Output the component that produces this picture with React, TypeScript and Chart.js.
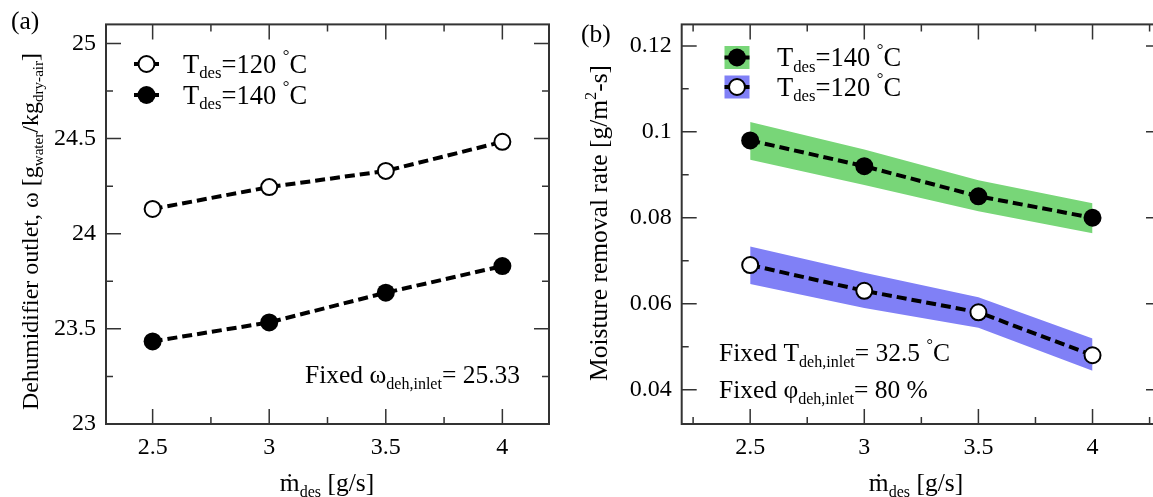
import React, { useEffect, useRef } from 'react';
import { Chart, registerables } from 'chart.js';
Chart.register(...registerables);

// ---------- data ----------
const xValues = [2.5, 3, 3.5, 4];
const omega120 = [24.13, 24.245, 24.33, 24.483];
const omega140 = [23.434, 23.534, 23.69, 23.83];
const rate140 = [0.098, 0.092, 0.085, 0.08];
const rate140Upper = [0.1023, 0.0959, 0.0887, 0.0834];
const rate140Lower = [0.0935, 0.0876, 0.0815, 0.0764];
const rate120 = [0.069, 0.063, 0.058, 0.048];
const rate120Upper = [0.0733, 0.0672, 0.0615, 0.0519];
const rate120Lower = [0.0646, 0.059, 0.0544, 0.0444];

const xTicks = [2.5, 3, 3.5, 4];
const leftXMinor = [2.75, 3.25, 3.75];
const rightXMinor = [2.25, 2.75, 3.25, 3.75, 4.25];
const leftYTicks = [23, 23.5, 24, 24.5, 25];
const leftYMinor = [23.25, 23.75, 24.25, 24.75];
const rightYTicks = [0.04, 0.06, 0.08, 0.1, 0.12];
const rightYMinor = [0.05, 0.07, 0.09, 0.11];

// ---------- helpers ----------
const FAM = '"Liberation Serif", "Times New Roman", "DejaVu Serif", serif';
Chart.defaults.font.family = FAM;
const TXT = 25.5;
const LEG = 26.5;
const TITLE = 25.5;
const TICK = 24;
const BLACK = '#000';
const FRAME = '#333';
const GREEN = 'rgb(120,214,120)';
const BLUE = 'rgb(128,128,246)';

type Seg = { t: string; sub?: boolean; sup?: boolean };

function drawRich(ctx: CanvasRenderingContext2D, segs: Seg[], x: number, y: number, size: number, align: 'left' | 'center' = 'left') {
  const small = size * 0.63;
  const widths: number[] = [];
  let total = 0;
  for (const s of segs) {
    ctx.font = `${s.sub || s.sup ? small : size}px ${FAM}`;
    const w = ctx.measureText(s.t).width;
    widths.push(w);
    total += w;
  }
  let cx = align === 'center' ? x - total / 2 : x;
  ctx.textAlign = 'left';
  ctx.textBaseline = 'alphabetic';
  segs.forEach((s, i) => {
    ctx.font = `${s.sub || s.sup ? small : size}px ${FAM}`;
    const dy = s.sub ? size * 0.22 : s.sup ? -size * 0.42 : 0;
    ctx.fillText(s.t, cx, y + dy);
    cx += widths[i];
  });
}

function drawRotated(ctx: CanvasRenderingContext2D, segs: Seg[], x: number, y: number, size: number) {
  ctx.save();
  ctx.translate(x, y);
  ctx.rotate(-Math.PI / 2);
  drawRich(ctx, segs, 0, 0, size, 'left');
  ctx.restore();
}

function marker(ctx: CanvasRenderingContext2D, x: number, y: number, filled: boolean) {
  ctx.beginPath();
  ctx.arc(x, y, filled ? 9 : 8, 0, Math.PI * 2);
  ctx.fillStyle = filled ? BLACK : '#fff';
  ctx.fill();
  if (!filled) {
    ctx.lineWidth = 2;
    ctx.strokeStyle = BLACK;
    ctx.stroke();
  }
}

function framePlugin(xMajor: number[], xMinor: number[], yMajor: number[], yMinor: number[]) {
  return {
    id: 'frameTicks',
    afterDraw(chart: any) {
      const { ctx, chartArea: a, scales } = chart;
      const xs = scales.x;
      const ys = scales.y;
      ctx.save();
      ctx.strokeStyle = FRAME;
      ctx.lineWidth = 1.5;
      const vt = (v: number, len: number) => {
        const p = xs.getPixelForValue(v);
        ctx.beginPath();
        ctx.moveTo(p, a.bottom);
        ctx.lineTo(p, a.bottom - len);
        ctx.moveTo(p, a.top);
        ctx.lineTo(p, a.top + len);
        ctx.stroke();
      };
      const ht = (v: number, len: number) => {
        const p = ys.getPixelForValue(v);
        ctx.beginPath();
        ctx.moveTo(a.left, p);
        ctx.lineTo(a.left + len, p);
        ctx.moveTo(a.right, p);
        ctx.lineTo(a.right - len, p);
        ctx.stroke();
      };
      xMajor.forEach((v) => vt(v, 15));
      xMinor.forEach((v) => vt(v, 7));
      yMajor.forEach((v) => ht(v, 15));
      yMinor.forEach((v) => ht(v, 7));
      ctx.lineWidth = 2;
      ctx.strokeRect(a.left, a.top, a.right - a.left, a.bottom - a.top);
      ctx.restore();
    },
  };
}

const deg = (v: string): Seg[] => [{ t: 'T' }, { t: 'des', sub: true }, { t: `=${v} ` }, { t: '°', sup: true }, { t: 'C' }];
const xTitle: Seg[] = [{ t: 'ṁ' }, { t: 'des', sub: true }, { t: ' [g/s]' }];

function leftText() {
  return {
    id: 'leftText',
    afterDraw(chart: any) {
      const ctx: CanvasRenderingContext2D = chart.ctx;
      ctx.save();
      ctx.fillStyle = BLACK;
      drawRich(ctx, [{ t: '(a)' }], 11, 29, TITLE);
      // legend
      const rows = [
        { y: 64, filled: false, segs: deg('120') },
        { y: 95, filled: true, segs: deg('140') },
      ];
      for (const r of rows) {
        ctx.strokeStyle = BLACK;
        ctx.lineWidth = 4;
        ctx.beginPath();
        ctx.moveTo(134, r.y);
        ctx.lineTo(159, r.y);
        ctx.stroke();
        marker(ctx, 146.5, r.y, r.filled);
        ctx.fillStyle = BLACK;
        drawRich(ctx, r.segs, 183, r.y + 8.5, LEG);
      }
      drawRich(ctx, [{ t: 'Fixed ω' }, { t: 'deh,inlet', sub: true }, { t: '= 25.33' }], 305, 383, TXT);
      drawRotated(
        ctx,
        [{ t: 'Dehumidifier outlet, ω [g' }, { t: 'water', sub: true }, { t: '/kg' }, { t: 'dry-air', sub: true }, { t: ']' }],
        38,
        410,
        24
      );
      drawRich(ctx, xTitle, 327, 491, TITLE, 'center');
      ctx.restore();
    },
  };
}

const OX = 565;
function rightText() {
  return {
    id: 'rightText',
    afterDraw(chart: any) {
      const ctx: CanvasRenderingContext2D = chart.ctx;
      ctx.save();
      ctx.translate(-OX, 0);
      ctx.fillStyle = BLACK;
      drawRich(ctx, [{ t: '(b)' }], 581, 42, TITLE);
      const rows = [
        { y: 57.5, filled: true, color: GREEN, segs: deg('140') },
        { y: 87, filled: false, color: BLUE, segs: deg('120') },
      ];
      for (const r of rows) {
        ctx.fillStyle = r.color;
        ctx.fillRect(724.5, r.y - 11.5, 25, 23);
        ctx.strokeStyle = BLACK;
        ctx.lineWidth = 4;
        ctx.beginPath();
        ctx.moveTo(724.5, r.y);
        ctx.lineTo(749.5, r.y);
        ctx.stroke();
        marker(ctx, 737, r.y, r.filled);
        ctx.fillStyle = BLACK;
        drawRich(ctx, r.segs, 777, r.y + 8.5, LEG);
      }
      drawRich(ctx, [{ t: 'Fixed T' }, { t: 'deh,inlet', sub: true }, { t: '= 32.5 ' }, { t: '°', sup: true }, { t: 'C' }], 719, 361, TXT);
      drawRich(ctx, [{ t: 'Fixed φ' }, { t: 'deh,inlet', sub: true }, { t: '= 80 %' }], 719, 398, TXT);
      drawRotated(
        ctx,
        [{ t: 'Moisture removal rate [g/m' }, { t: '2', sup: true }, { t: '-s]' }],
        607,
        381,
        TITLE
      );
      drawRich(ctx, xTitle, 916, 491, TITLE, 'center');
      ctx.restore();
    },
  };
}

const tickFont = { family: FAM, size: TICK };
const fmt = (v: any) => String(+Number(v).toFixed(3));

function axes(xmin: number, xmax: number, ymin: number, ymax: number, yTicks: number[], yWidth: number) {
  return {
    x: {
      type: 'linear',
      min: xmin,
      max: xmax,
      grid: { display: false, drawTicks: false, tickLength: 0 },
      border: { display: false },
      ticks: { font: tickFont, color: BLACK, padding: 9, maxRotation: 0, callback: fmt },
      afterBuildTicks: (s: any) => {
        s.ticks = xTicks.map((v) => ({ value: v }));
      },
      afterFit: (s: any) => {
        s.height = 73;
      },
    },
    y: {
      type: 'linear',
      min: ymin,
      max: ymax,
      grid: { display: false, drawTicks: false, tickLength: 0 },
      border: { display: false },
      ticks: { font: tickFont, color: BLACK, padding: 10, callback: fmt },
      afterBuildTicks: (s: any) => {
        s.ticks = yTicks.map((v) => ({ value: v }));
      },
      afterFit: (s: any) => {
        s.width = yWidth;
      },
    },
  };
}

const pts = (ys: number[]) => xValues.map((x, i) => ({ x, y: ys[i] }));

const lineStyle = (filled: boolean) => ({
  borderColor: BLACK,
  borderWidth: 4,
  borderDash: [10, 5],
  pointRadius: filled ? 9 : 8,
  pointHoverRadius: filled ? 9 : 8,
  pointBorderWidth: filled ? 0 : 2,
  pointBackgroundColor: filled ? BLACK : '#fff',
  pointBorderColor: BLACK,
  fill: false,
  tension: 0,
  order: 0,
});

const bandStyle = (color: string, fillPrev: boolean) => ({
  borderWidth: 0,
  borderColor: 'rgba(0,0,0,0)',
  backgroundColor: color,
  pointRadius: 0,
  pointHoverRadius: 0,
  fill: fillPrev ? '-1' : false,
  tension: 0,
  order: 3,
});

const baseOptions = {
  responsive: false,
  animation: false,
  events: [],
  plugins: { legend: { display: false }, tooltip: { enabled: false } },
};

function leftConfig(): any {
  return {
    type: 'line',
    data: {
      datasets: [
        { label: 'T_des=120 °C', data: pts(omega120), ...lineStyle(false) },
        { label: 'T_des=140 °C', data: pts(omega140), ...lineStyle(true) },
      ],
    },
    options: {
      ...baseOptions,
      layout: { padding: { top: 19, right: 16, left: 0, bottom: 0 } },
      scales: axes(2.3, 4.2, 23, 25.1, leftYTicks, 106),
    },
    plugins: [framePlugin(xTicks, leftXMinor, leftYTicks, leftYMinor), leftText()],
  };
}

function rightConfig(): any {
  return {
    type: 'line',
    data: {
      datasets: [
        { label: '140 upper', data: pts(rate140Upper), ...bandStyle(GREEN, false) },
        { label: '140 lower', data: pts(rate140Lower), ...bandStyle(GREEN, true) },
        { label: '120 upper', data: pts(rate120Upper), ...bandStyle(BLUE, false) },
        { label: '120 lower', data: pts(rate120Lower), ...bandStyle(BLUE, true) },
        { label: 'T_des=140 °C', data: pts(rate140), ...lineStyle(true) },
        { label: 'T_des=120 °C', data: pts(rate120), ...lineStyle(false) },
      ],
    },
    options: {
      ...baseOptions,
      layout: { padding: { top: 19, right: 19, left: 0, bottom: 0 } },
      scales: axes(2.2, 4.3, 0.032, 0.125, rightYTicks, 116.7),
    },
    plugins: [framePlugin(xTicks, rightXMinor, rightYTicks, rightYMinor), rightText()],
  };
}

function Panel({ left, width, make }: { left: number; width: number; make: () => any }) {
  const ref = useRef<HTMLCanvasElement>(null);
  useEffect(() => {
    const chart = new Chart(ref.current as HTMLCanvasElement, make());
    return () => chart.destroy();
  }, []);
  return (
    <div style={{ position: 'absolute', left, top: 0, width, height: 497 }}>
      <canvas ref={ref} width={width} height={497} style={{ width, height: 497, display: 'block' }} />
    </div>
  );
}

export default function App() {
  return (
    <div style={{ position: 'fixed', left: 0, top: 0, width: 1153, height: 497, overflow: 'hidden', background: '#fff' }}>
      <Panel left={0} width={565} make={leftConfig} />
      <Panel left={OX} width={615} make={rightConfig} />
    </div>
  );
}
